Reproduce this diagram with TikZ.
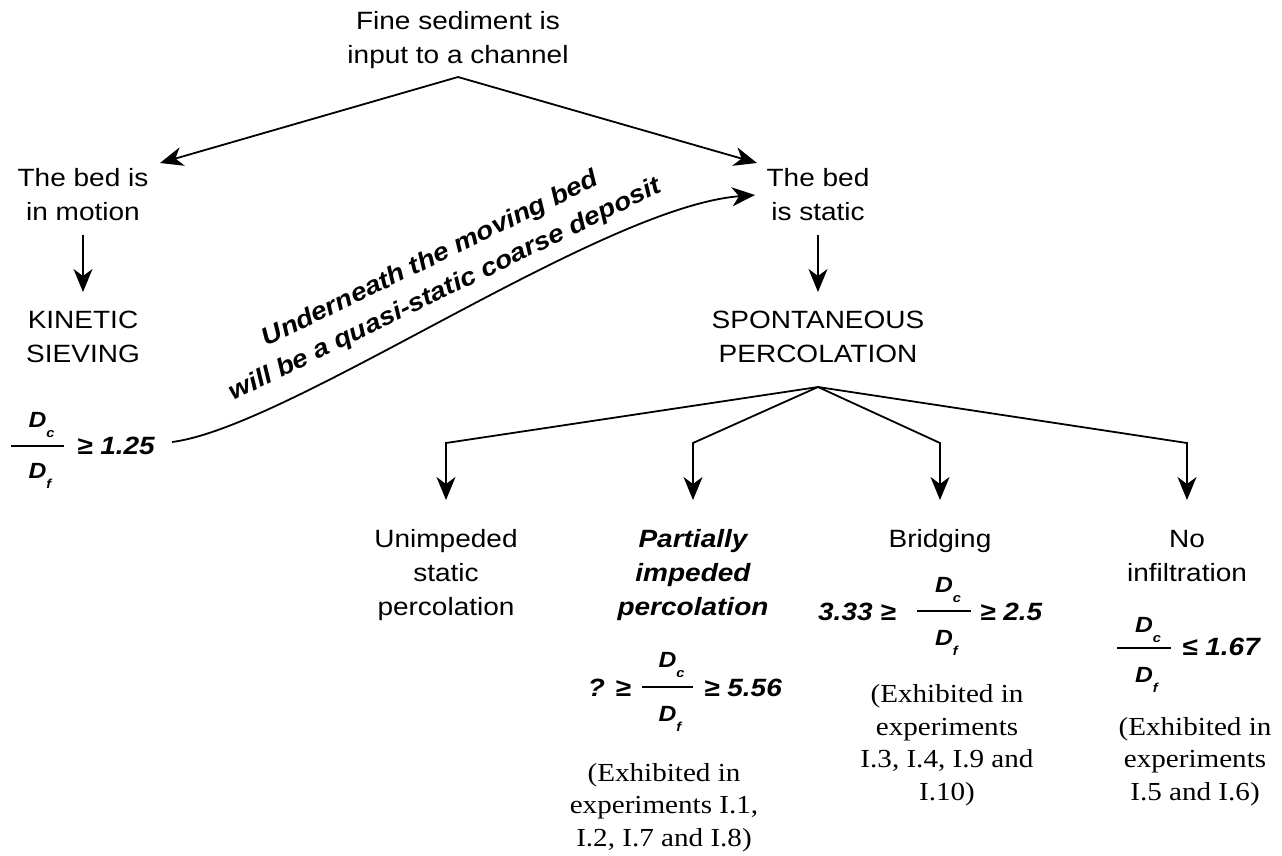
\documentclass[tikz,border=0pt]{standalone}
\usepackage{fontspec}
\setmainfont{Liberation Sans}[FakeStretch=1.12]
\newfontfamily\exfont{Liberation Serif}[FakeStretch=1.12]
\usetikzlibrary{arrows.meta}
\tikzset{
  lbl/.style={align=center, inner sep=0pt, anchor=base, font=\fontsize{25}{34}\selectfont},
  bilbl/.style={align=center, inner sep=0pt, anchor=base, font=\fontsize{25}{34}\selectfont\bfseries\itshape},
  ex/.style={align=center, inner sep=0pt, anchor=base, font=\exfont\fontsize{26}{32.5}\selectfont},
  num/.style={inner sep=0pt, font=\fontsize{25}{30}\selectfont\bfseries\itshape},
  dd/.style={inner sep=0pt, anchor=base, font=\fontsize{22}{25}\selectfont\bfseries\itshape},
  fbar/.style={line width=2.6pt},
  arr/.style={-{Stealth[length=23pt,width=19pt,inset=7pt]}, line width=1.8pt},
}
\newcommand\Dsub[1]{D\rlap{\raisebox{-10pt}{\fontsize{13}{13}\selectfont #1}}}
\begin{document}
\begin{tikzpicture}[x=1pt,y=-1pt]
\useasboundingbox (0,0) rectangle (1282,855);
% main labels (anchor = baseline of the last line)
\node[lbl] (top) at (458,63) {Fine sediment is\\input to a channel};
\node[lbl] (motion) at (83,220) {The bed is\\in motion};
\node[lbl] (static) at (818,220) {The bed\\is static};
\node[lbl] (kin) at (83,362) {KINETIC\\SIEVING};
\node[lbl] (spont) at (818,362) {SPONTANEOUS\\PERCOLATION};
\node[lbl] (unimp) at (446,615) {Unimpeded\\static\\percolation};
\node[bilbl] (partial) at (693,615) {Partially\\impeded\\percolation};
\node[lbl] (bridg) at (940,547) {Bridging};
\node[lbl] (noinf) at (1187,581) {No\\infiltration};
% experiment notes
\node[ex] (ex1) at (664,846) {(Exhibited in\\experiments I.1,\\I.2, I.7 and I.8)};
\node[ex] (ex2) at (947,800) {(Exhibited in\\experiments\\I.3, I.4, I.9 and\\I.10)};
\node[ex] (ex3) at (1195,800) {(Exhibited in\\experiments\\I.5 and I.6)};
% rotated note
\node[bilbl, anchor=center, rotate=26] (note) at (438,275) {Underneath the moving bed\\will be a quasi-static coarse deposit};
% fraction 1 (kinetic sieving)
\node[dd] (n1) at (37.5,427) {\Dsub{c}};
\node[dd] (d1) at (37.5,478) {\Dsub{f}};
\coordinate (b1a) at (11,446); \coordinate (b1b) at (64,446);
\draw[fbar] (b1a) -- (b1b);
\node[num, anchor=base west] (r1) at (77,454) {≥ 1.25};
% fraction 2 (partially impeded)
\node[num, anchor=base east] (l2) at (631,696) {? ≥};
\node[dd] (n2) at (667.5,667) {\Dsub{c}};
\node[dd] (d2) at (667.5,721) {\Dsub{f}};
\coordinate (b2a) at (642,687); \coordinate (b2b) at (693,687);
\draw[fbar] (b2a) -- (b2b);
\node[num, anchor=base west] (r2) at (704,696) {≥ 5.56};
% fraction 3 (bridging)
\node[num, anchor=base east] (l3) at (896,620) {3.33 ≥};
\node[dd] (n3) at (944,592) {\Dsub{c}};
\node[dd] (d3) at (944,645) {\Dsub{f}};
\coordinate (b3a) at (917,611); \coordinate (b3b) at (971,611);
\draw[fbar] (b3a) -- (b3b);
\node[num, anchor=base west] (r3) at (980,620) {≥ 2.5};
% fraction 4 (no infiltration)
\node[dd] (n4) at (1144,632) {\Dsub{c}};
\node[dd] (d4) at (1144,682) {\Dsub{f}};
\coordinate (b4a) at (1117,648); \coordinate (b4b) at (1171,648);
\draw[fbar] (b4a) -- (b4b);
\node[num, anchor=base west] (r4) at (1182,655) {≤ 1.67};
% connectors
\coordinate (j1) at (458,77);
\coordinate (tL) at (160,163);
\coordinate (tR) at (757,163);
\draw[arr] (j1) -- (tL);
\draw[arr] (j1) -- (tR);
\coordinate (m1) at (83,235); \coordinate (m2) at (83,292);
\coordinate (s1) at (818,235); \coordinate (s2) at (818,292);
\draw[arr, line width=1.5pt] (m1) -- (m2);
\draw[arr, line width=1.5pt] (s1) -- (s2);
\coordinate (j2) at (818,387);
\foreach \i/\x in {1/446,2/693,3/940,4/1187}{
  \coordinate (c\i) at (\x,443);
  \coordinate (t\i) at (\x,500);
  \draw[arr] (j2) -- (c\i) -- (t\i);
}
\coordinate (cs) at (172,442);
\coordinate (ce) at (755,195);
\draw[arr] (cs) .. controls (290,427) and (600,207) .. (ce);
\end{tikzpicture}
\end{document}
